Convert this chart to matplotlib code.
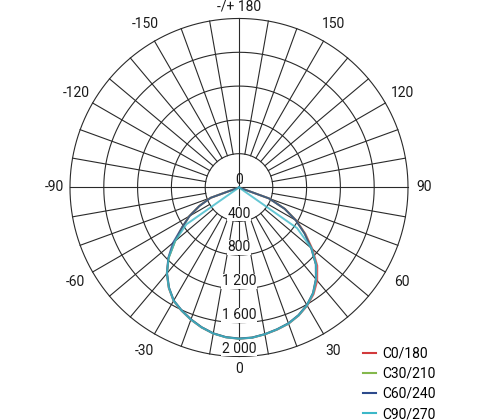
import matplotlib
matplotlib.use("Agg")
import matplotlib.pyplot as plt
import numpy as np

plt.rcParams['font.family'] = ['Roboto', 'DejaVu Sans']

# gamma angle (deg) in each half plane
gamma = [0, 5, 10, 15, 20, 25, 30, 35, 40, 45, 50, 55, 60, 65, 70, 75, 80, 85, 90]

# luminous intensity (cd), right half (C0/C30/C60/C90) and left half (C180/C210/C240/C270)
c0_right = [1790, 1785, 1765, 1742, 1716, 1672, 1615, 1540, 1440, 1310, 1135, 960, 785, 600, 380, 0, 0, 0, 0]
c0_left = [1790, 1780, 1755, 1715, 1665, 1610, 1550, 1450, 1330, 1180, 990, 820, 680, 520, 360, 0, 0, 0, 0]
c30_right = [1788, 1783, 1763, 1738, 1712, 1668, 1608, 1528, 1418, 1288, 1118, 948, 778, 598, 378, 0, 0, 0, 0]
c30_left = [1788, 1778, 1753, 1712, 1662, 1606, 1546, 1446, 1326, 1176, 986, 818, 678, 518, 358, 0, 0, 0, 0]
c60_right = [1787, 1782, 1762, 1737, 1710, 1666, 1606, 1526, 1415, 1285, 1115, 945, 775, 595, 375, 0, 0, 0, 0]
c60_left = [1787, 1777, 1752, 1711, 1660, 1604, 1544, 1444, 1324, 1185, 1020, 822, 676, 516, 356, 0, 0, 0, 0]
c90_right = [1790, 1785, 1764, 1740, 1714, 1670, 1610, 1530, 1420, 1290, 1120, 840, 0, 0, 0, 0, 0, 0, 0]
c90_left = [1790, 1780, 1755, 1714, 1664, 1608, 1548, 1448, 1328, 1178, 988, 760, 0, 0, 0, 0, 0, 0, 0]

series_names = ['C0/180', 'C30/210', 'C60/240', 'C90/270']
series_colors = ['#d23a3c', '#84b84c', '#2d4a8c', '#3cb8c8']

ring_values = [400, 800, 1200, 1600, 2000]
ring_labels = ['400', '800', '1 200', '1 600', '2 000']
angle_ticks = [0, 30, 60, 90, 120, 150, 180, -150, -120, -90, -60, -30]
angle_labels = ['0', '30', '60', '90', '120', '150', '-/+ 180',
                '-150', '-120', '-90', '-60', '-30']

fig = plt.figure(figsize=(4.8, 4.2), dpi=100)
ax = fig.add_axes([0.1458, 0.1512, 0.7042, 0.8048], projection='polar')
ax.set_theta_zero_location('S')
ax.set_theta_direction(1)
ax.set_ylim(0, 2000)
ax.set_axis_off()

grid_kw = dict(color='#2a2a2a', lw=0.8, zorder=1, clip_on=False)

# rings
full = np.linspace(0, 2 * np.pi, 721)
for v in ring_values:
    ax.plot(full, np.full_like(full, v), **grid_kw)

# spokes every 10 deg, diameters through the centre
for a in range(0, 360, 10):
    t = np.deg2rad(a)
    if a % 90 == 0:
        ax.plot([t, t], [0, 2000], **grid_kw)
    else:
        ax.plot([t, t], [400, 2000], **grid_kw)

# curves
g = np.deg2rad(np.array(gamma))
theta = np.concatenate([-g[::-1], g[1:]])
curves = [(c0_left, c0_right), (c30_left, c30_right),
          (c60_left, c60_right), (c90_left, c90_right)]
for (left, right), name, col in zip(curves, series_names, series_colors):
    r = np.concatenate([np.array(left)[::-1], np.array(right)[1:]])
    ax.plot(theta, r, color=col, lw=1.4, alpha=0.8, label=name, zorder=3)

# angle labels
for a, lab in zip(angle_ticks, angle_labels):
    if a in (0, 180):
        rr = 2145
    elif abs(a) == 90:
        rr = 2190
    else:
        rr = 2230
    ax.text(np.deg2rad(a), rr, lab, ha='center', va='center', fontsize=10,
            color='#1a1a1a')

# radial labels along the 0 direction
ax.text(np.pi, 90, '0', ha='center', va='center', fontsize=10, color='#1a1a1a', zorder=4)
for v, lab in zip(ring_values, ring_labels):
    ax.text(0, v - 90, lab, ha='center', va='center', fontsize=10, color='#1a1a1a',
            zorder=4, bbox=dict(facecolor='white', edgecolor='none', pad=0.3))

leg = fig.legend(loc='upper left', bbox_to_anchor=(0.756, 0.175), frameon=False,
                 fontsize=10, handlelength=0.95, handletextpad=0.45,
                 labelspacing=0.45, borderpad=0, borderaxespad=0)
for h in leg.get_lines():
    h.set_alpha(1)
    h.set_linewidth(1.5)

fig.savefig('out.png', dpi=100)
plt.close(fig)
